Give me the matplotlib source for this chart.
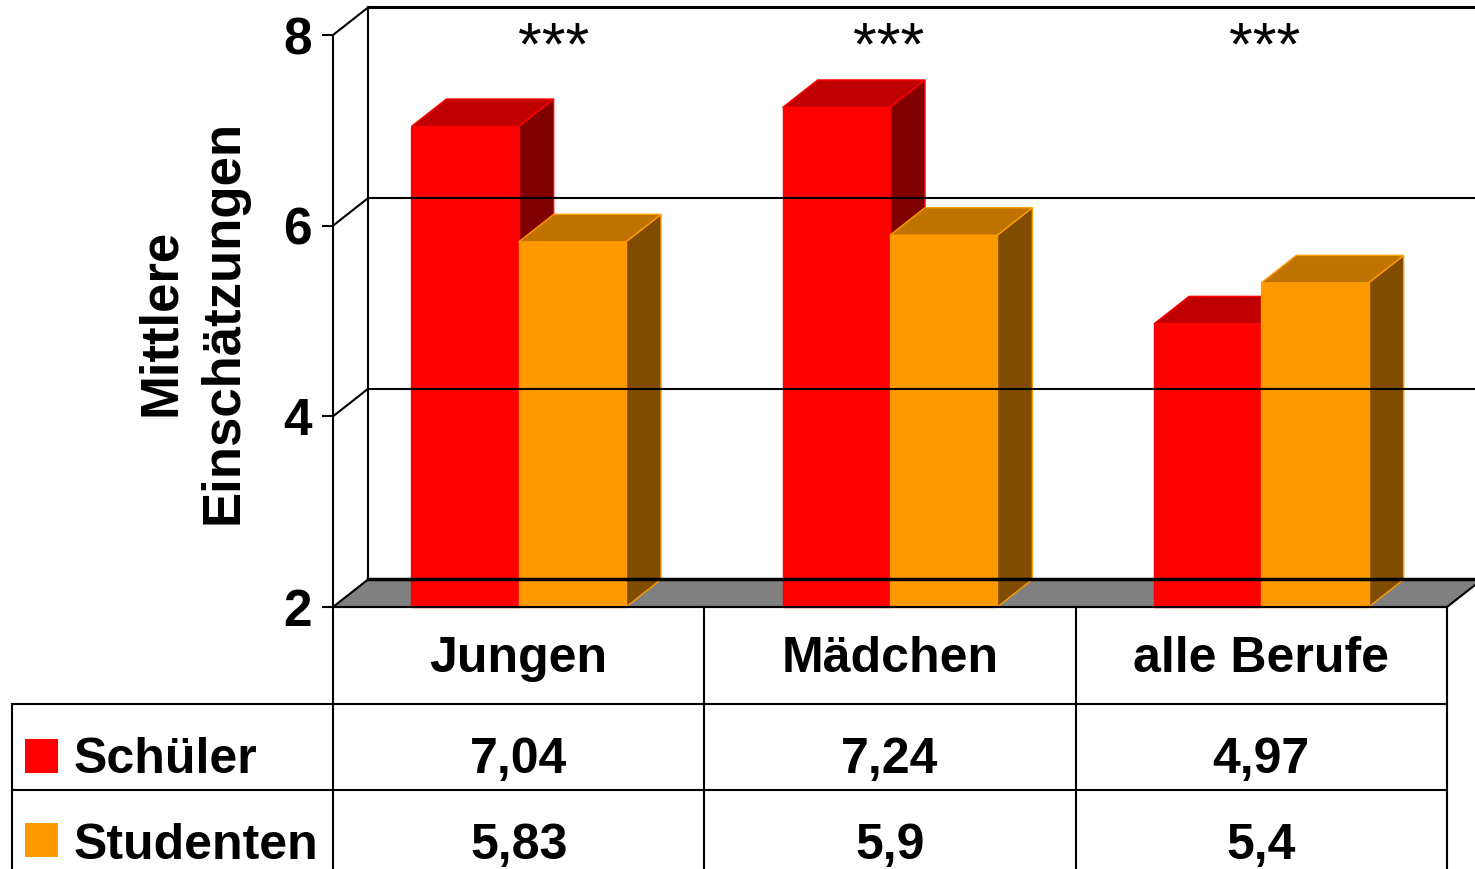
import matplotlib
matplotlib.use("Agg")
import matplotlib.pyplot as plt
from matplotlib.patches import Polygon, Rectangle
from matplotlib.lines import Line2D
from matplotlib.transforms import blended_transform_factory

plt.rcParams['font.family'] = ['Liberation Sans', 'DejaVu Sans']
plt.rcParams['font.weight'] = 'bold'

categories = ['Jungen', 'Mädchen', 'alle Berufe']
series = ['Schüler', 'Studenten']
schueler = [7.04, 7.24, 4.97]
studenten = [5.83, 5.9, 5.4]
yticks = [2, 4, 6, 8]
signif = ['***', '***', '***']
star_x = [0.595, 1.495, 2.51]

# face, top, side colours per series
face = ['#FF0000', '#FF9900']
top_c = ['#C00000', '#C07300']
side_c = ['#800000', '#804D00']

W, H = 1475, 869


def fx(px):
    return px / W


def fy(py):
    return 1 - py / H


fig = plt.figure(figsize=(W / 100, H / 100), dpi=100)
ax = fig.add_axes([fx(333), fy(607), fx(1447) - fx(333), fy(35) - fy(607)])
ax.set_xlim(0, 3)
ax.set_ylim(2, 8)
for s in ['top', 'right', 'bottom']:
    ax.spines[s].set_visible(False)
ax.spines['left'].set_linewidth(1.5)
ax.set_xticks([])
ax.set_yticks(yticks)
ax.tick_params(axis='y', length=8, width=1.5, pad=7, labelsize=37)

# depth of the 3d effect in data units
DX = 35 / 371.3
DY = 27.5 / 95.33

# back wall
ax.plot([DX, DX], [2 + DY, 8 + DY], color='black', lw=1.5, clip_on=False)
for v in yticks[1:]:
    ax.plot([DX, 3 + DX], [v + DY, v + DY], color='black',
            lw=2.2 if v == 8 else 1.5, clip_on=False)
    ax.plot([0, DX], [v, v + DY], color='black', lw=1.5, clip_on=False)

# floor
ax.add_patch(Polygon([(0, 2), (3, 2), (3 + DX, 2 + DY), (DX, 2 + DY)],
                     closed=True, facecolor='#808080', edgecolor='black',
                     lw=1.5, clip_on=False))
ax.plot([DX, 3 + DX], [2 + DY, 2 + DY], color='black', lw=2.5, clip_on=False)

BW = 0.289


def bar3d(x0, v, k):
    kw = dict(closed=True, edgecolor=face[k], lw=1, clip_on=False)
    ax.add_patch(Polygon([(x0 + BW, 2), (x0 + BW + DX, 2 + DY),
                          (x0 + BW + DX, v + DY), (x0 + BW, v)],
                         facecolor=side_c[k], **kw))
    ax.add_patch(Polygon([(x0, v), (x0 + BW, v), (x0 + BW + DX, v + DY),
                          (x0 + DX, v + DY)], facecolor=top_c[k], **kw))
    ax.add_patch(Polygon([(x0, 2), (x0 + BW, 2), (x0 + BW, v), (x0, v)],
                         facecolor=face[k], **kw))


for i in range(len(categories)):
    c = i + 0.5
    bar3d(c - BW, schueler[i], 0)
    bar3d(c, studenten[i], 1)
    ax.text(star_x[i], 7.69, signif[i], ha='center', va='baseline',
            fontsize=44, fontweight='normal')

# y label
fig.text(fx(192), fy(322), 'Mittlere\nEinschätzungen', rotation=90,
         ha='center', va='center', fontsize=38, linespacing=1.32,
         multialignment='center')

# data table
def hline(y, x0, x1):
    fig.add_artist(Line2D([fx(x0), fx(x1)], [fy(y), fy(y)], color='black',
                          lw=1.5, transform=fig.transFigure))


def vline(x, y0, y1):
    fig.add_artist(Line2D([fx(x), fx(x)], [fy(y0), fy(y1)], color='black',
                          lw=1.5, transform=fig.transFigure))


hline(607, 333, 1447)
hline(704, 12, 1447)
hline(790, 12, 1447)
for x in [333, 704, 1076, 1447]:
    vline(x, 607, 869)
vline(12, 704, 869)

tr = blended_transform_factory(ax.transData, fig.transFigure)
rows = [schueler, studenten]
for i, cat in enumerate(categories):
    fig.text(i + 0.5, fy(672), cat, transform=tr, ha='center',
             va='baseline', fontsize=36)
    for r, vals in enumerate(rows):
        lab = f"{vals[i]:g}".replace('.', ',')
        fig.text(i + 0.5, fy([773, 859][r]), lab, transform=tr,
                 ha='center', va='baseline', fontsize=36)

for r, name in enumerate(series):
    ytop = [739, 823][r]
    fig.add_artist(Rectangle((fx(25), fy(ytop + 34)), fx(33), 34 / H,
                             facecolor=face[r], edgecolor='none',
                             transform=fig.transFigure))
    fig.text(fx(74), fy([773, 859][r]), name, ha='left', va='baseline',
             fontsize=36)

fig.savefig('out.png', dpi=100)
